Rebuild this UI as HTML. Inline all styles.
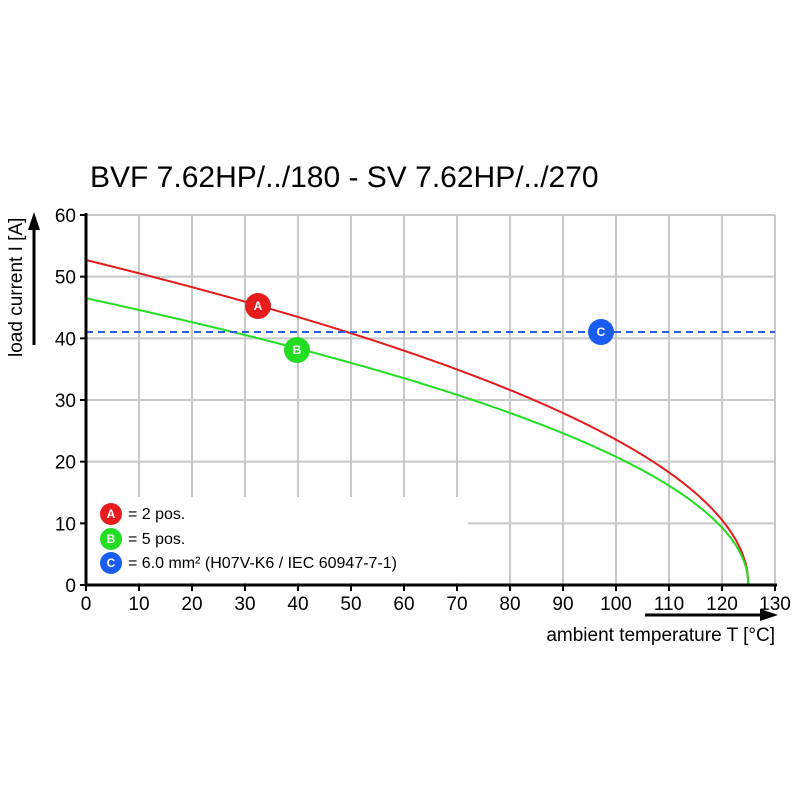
<!DOCTYPE html>
<html><head><style>body{margin:0;background:#fff}</style></head><body>
<svg width="800" height="800" xmlns="http://www.w3.org/2000/svg" font-family="Liberation Sans, Arial, sans-serif">
<rect width="800" height="800" fill="#fff"/>
<text x="90" y="187" font-size="30">BVF 7.62HP/../180 - SV 7.62HP/../270</text>
<g stroke="#c8c8c8" stroke-width="2" id="grid"></g>
<rect x="87" y="497" width="381" height="86" fill="#fff"/>
<polyline id="ra" fill="none" stroke="#e21b1b" stroke-width="2"/>
<polyline id="gb" fill="none" stroke="#22dd22" stroke-width="2"/>
<line x1="86" y1="332" x2="775" y2="332" stroke="#2a5de0" stroke-width="2" stroke-dasharray="7,5"/>
<line x1="86" y1="213" x2="86" y2="585" stroke="#000" stroke-width="3"/>
<line x1="85" y1="585" x2="777" y2="585" stroke="#000" stroke-width="3"/>
<g id="ticks" stroke="#000" stroke-width="2"></g>
<g id="lab" font-size="19" fill="#000"></g>
<g font-size="12" font-weight="bold" fill="#fff" text-anchor="middle">
<circle cx="258" cy="306" r="13" fill="#e81c1c"/><text x="258" y="310">A</text>
<circle cx="297" cy="350" r="13" fill="#22dd22"/><text x="297" y="354">B</text>
<circle cx="601" cy="332" r="13" fill="#1a5cf0"/><text x="601" y="336">C</text>
<circle cx="111" cy="514" r="11" fill="#e81c1c"/><text x="111" y="518">A</text>
<circle cx="111" cy="539" r="11" fill="#22dd22"/><text x="111" y="543">B</text>
<circle cx="111" cy="563" r="11" fill="#1a5cf0"/><text x="111" y="567">C</text>
</g>
<g font-size="16" fill="#000">
<text x="128" y="519">= 2 pos.</text>
<text x="128" y="544">= 5 pos.</text>
<text x="128" y="568">= 6.0 mm² (H07V-K6 / IEC 60947-7-1)</text>
</g>
<text x="775" y="641" font-size="19" text-anchor="end">ambient temperature T [°C]</text>
<line x1="645" y1="615" x2="762" y2="615" stroke="#000" stroke-width="3"/>
<polygon points="778,615 760,609 760,621" fill="#000"/>
<text transform="translate(22,357) rotate(-90)" font-size="19">load current I [A]</text>
<line x1="34" y1="345" x2="34" y2="228" stroke="#000" stroke-width="3"/>
<polygon points="34,212 28,230 40,230" fill="#000"/>
</svg>
<script>
const X=t=>86+t*5.3, Y=v=>585-v*6.1667, ns="http://www.w3.org/2000/svg";
const g=document.getElementById('grid'),tk=document.getElementById('ticks'),lb=document.getElementById('lab');
function el(p,n,a,txt){const e=document.createElementNS(ns,n);for(const k in a)e.setAttribute(k,a[k]);if(txt!==undefined)e.textContent=txt;p.appendChild(e);}
for(let t=10;t<=130;t+=10)el(g,'line',{x1:X(t),y1:215,x2:X(t),y2:585});
for(let v=10;v<=60;v+=10)el(g,'line',{x1:86,y1:Y(v),x2:775,y2:Y(v)});
for(let t=0;t<=130;t+=10){el(tk,'line',{x1:X(t),y1:585,x2:X(t),y2:591});el(lb,'text',{x:X(t),y:610,'text-anchor':'middle'},t);}
for(let v=0;v<=60;v+=10){el(tk,'line',{x1:80,y1:Y(v),x2:86,y2:Y(v)});el(lb,'text',{x:76,y:Y(v)+7,'text-anchor':'end'},v);}
function curve(id,i0){let p=[];for(let t=0;t<=125;t+=0.25){p.push(X(t).toFixed(1)+','+Y(i0*Math.sqrt((125-t)/125)).toFixed(1));}document.getElementById(id).setAttribute('points',p.join(' '));}
curve('ra',52.7);curve('gb',46.5);
</script>
</body></html>
